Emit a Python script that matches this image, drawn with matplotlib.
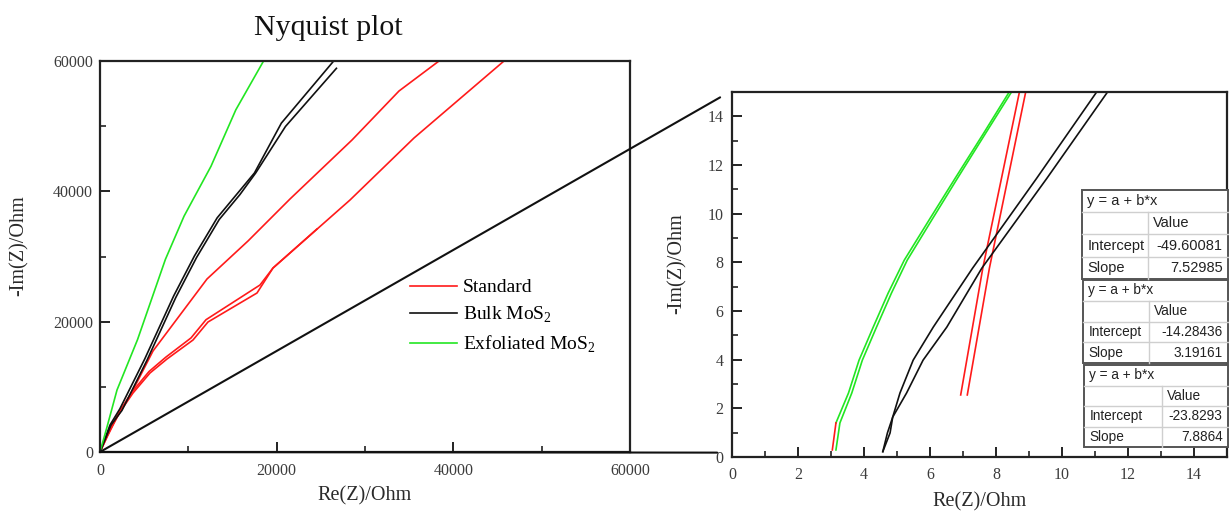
import matplotlib
matplotlib.use('Agg')
import matplotlib.pyplot as plt
from matplotlib.patches import ConnectionPatch, Rectangle
from matplotlib.lines import Line2D
from matplotlib.ticker import MultipleLocator

plt.rcParams['font.family'] = ['Liberation Serif', 'DejaVu Serif']
plt.rcParams['mathtext.fontset'] = 'custom'
plt.rcParams['mathtext.rm'] = 'Liberation Serif'

# ---------------- data: left (full Nyquist plot) ----------------
std_a_x = [0, 800, 1930, 3736, 6000, 12113, 16754, 21509, 28528, 33849, 38377]
std_a_y = [0, 2300, 5370, 9514, 15500, 26547, 32378, 38823, 47876, 55396, 60000]
std_b_x = [0, 1132, 2264, 3736, 5660, 7585, 10528, 12226, 17773, 19585, 28302, 35547, 45736]
std_b_y = [0, 3376, 6138, 9054, 12123, 14271, 17186, 19949, 24399, 28235, 38669, 48183, 60000]
std_c_x = [0, 1100, 2200, 3650, 5550, 7450, 10300, 12000, 18113, 19585, 24566]
std_c_y = [0, 3450, 6250, 9250, 12350, 14550, 17500, 20300, 25626, 28235, 34220]
bulk_a_x = [0, 1132, 2250, 5063, 8344, 10688, 13266, 15609, 17484, 20531, 26391]
bulk_a_y = [0, 4143, 6627, 14274, 23959, 30076, 35939, 39762, 42820, 50467, 59898]
bulk_b_x = [0, 1250, 2484, 5297, 8578, 10922, 13500, 15844, 17625, 21000, 26766]
bulk_b_y = [0, 4143, 6372, 14014, 23704, 29822, 35684, 39507, 42820, 49958, 58878]
exf_x = [0, 792, 1925, 4250, 7406, 9516, 12563, 15375, 18516]
exf_y = [0, 3836, 9514, 17250, 29567, 36194, 43840, 52506, 60000]

# ---------------- data: right (zoom on high-frequency region) ----------------
z_exf_a_x = [3.15, 3.53, 3.85, 4.28, 4.73, 5.22, 6.00, 6.76, 7.60, 8.40]
z_exf_a_y = [1.40, 2.63, 3.98, 5.34, 6.73, 8.09, 9.80, 11.45, 13.25, 15.0]
z_exf_b_x = [3.15, 3.27, 3.63, 3.95, 4.38, 4.83, 5.31, 6.08, 6.83, 7.66, 8.47]
z_exf_b_y = [0.29, 1.40, 2.63, 3.98, 5.34, 6.73, 8.09, 9.80, 11.45, 13.25, 15.0]
z_std_seg_x = [3.04, 3.15]
z_std_seg_y = [0.29, 1.40]
z_std_a_x = [6.93, 7.60, 8.71]
z_std_a_y = [2.55, 7.76, 15.0]
z_std_b_x = [7.13, 7.80, 8.90]
z_std_b_y = [2.55, 7.76, 15.0]
z_bulk_a_x = [4.57, 4.71, 4.87, 5.09, 5.49, 6.10, 7.29, 9.23, 11.05]
z_bulk_a_y = [0.22, 0.99, 1.64, 2.63, 3.98, 5.34, 7.76, 11.45, 15.0]
z_bulk_b_x = [4.57, 4.79, 4.87, 5.29, 5.79, 6.51, 7.57, 9.54, 11.38]
z_bulk_b_y = [0.22, 0.99, 1.64, 2.63, 3.98, 5.34, 7.76, 11.45, 15.0]

# linear-fit tables
fit_title = "y = a + b*x"
fit_intercepts = ["-49.60081", "-14.28436", "-23.8293"]
fit_slopes = ["7.52985", "3.19161", "7.8864"]

left_ticks = [0, 20000, 40000, 60000]
right_ticks = [0, 2, 4, 6, 8, 10, 12, 14]
legend_labels = ["Standard", "Bulk MoS$_\\mathregular{2}$", "Exfoliated MoS$_\\mathregular{2}$"]

RED = '#ff1a1a'
BLACK = '#111111'
GREEN = '#22e622'
LW = 1.2
TICKCOL = '#3c3c3c'
LABCOL = '#2a2a2a'

fig = plt.figure(figsize=(12.29, 5.11), dpi=100)
ax1 = fig.add_axes([100/1229, 59/511, 530/1229, 391/511])
ax2 = fig.add_axes([732/1229, 54/511, 495/1229, 365/511])

# ---- left axes ----
ax1.plot(std_a_x, std_a_y, color=RED, lw=LW)
ax1.plot(std_b_x, std_b_y, color=RED, lw=LW)
ax1.plot(std_c_x, std_c_y, color=RED, lw=LW)
ax1.plot(bulk_a_x, bulk_a_y, color=BLACK, lw=LW)
ax1.plot(bulk_b_x, bulk_b_y, color=BLACK, lw=LW)
ax1.plot(exf_x, exf_y, color=GREEN, lw=LW)
ax1.set_xlim(0, 60000)
ax1.set_ylim(0, 60000)

# ---- right axes ----
ax2.plot(z_exf_a_x, z_exf_a_y, color=GREEN, lw=LW)
ax2.plot(z_exf_b_x, z_exf_b_y, color=GREEN, lw=LW)
ax2.plot(z_std_seg_x, z_std_seg_y, color=RED, lw=LW)
ax2.plot(z_std_a_x, z_std_a_y, color=RED, lw=LW)
ax2.plot(z_std_b_x, z_std_b_y, color=RED, lw=LW)
ax2.plot(z_bulk_a_x, z_bulk_a_y, color=BLACK, lw=LW)
ax2.plot(z_bulk_b_x, z_bulk_b_y, color=BLACK, lw=LW)
ax2.set_xlim(0, 15)
ax2.set_ylim(0, 15)

for ax in (ax1, ax2):
    for s in ax.spines.values():
        s.set_linewidth(1.6)
        s.set_color('#222222')
    ax.tick_params(which='both', direction='in', top=False, right=False,
                   colors='#222222', labelcolor=TICKCOL, labelsize=11.5)
    ax.tick_params(which='major', length=7, width=1.4)
    ax.tick_params(which='minor', length=4, width=1.2)

ax1.set_xticks(left_ticks)
ax1.set_yticks(left_ticks)
ax1.xaxis.set_minor_locator(MultipleLocator(10000))
ax1.yaxis.set_minor_locator(MultipleLocator(10000))
ax1.set_xticklabels([str(t) for t in left_ticks])
ax1.set_yticklabels([str(t) for t in left_ticks])
ax1.tick_params(axis='x', pad=8)
ax1.tick_params(axis='y', pad=5)

ax2.set_xticks(right_ticks)
ax2.set_yticks(right_ticks)
ax2.xaxis.set_minor_locator(MultipleLocator(1))
ax2.yaxis.set_minor_locator(MultipleLocator(1))
ax2.tick_params(axis='x', pad=7)
ax2.tick_params(axis='y', pad=6)

ax1.set_xlabel("Re(Z)/Ohm", fontsize=14.5, color=LABCOL)
ax1.set_ylabel("-Im(Z)/Ohm", fontsize=14.5, color=LABCOL)
ax2.set_xlabel("Re(Z)/Ohm", fontsize=14.5, color=LABCOL)
ax2.set_ylabel("-Im(Z)/Ohm", fontsize=14.5, color=LABCOL)
ax1.xaxis.set_label_coords(0.5, -0.088)
ax1.yaxis.set_label_coords(-0.134, 0.527)
ax2.xaxis.set_label_coords(0.5, -0.097)
ax2.yaxis.set_label_coords(-0.091, 0.529)

fig.text(328/1229, 1 - 28/511, "Nyquist plot", fontsize=21.5, ha='center', va='center', color='#111111')

handles = [Line2D([], [], color=RED, lw=LW),
           Line2D([], [], color=BLACK, lw=LW),
           Line2D([], [], color=GREEN, lw=LW)]
ax1.legend(handles, legend_labels, loc='upper left', bbox_to_anchor=(0.585, 0.443),
           frameon=False, fontsize=14, handlelength=2.4, handletextpad=0.3,
           labelspacing=0.45, borderpad=0, borderaxespad=0)

# ---- zoom connector lines ----
for xyB in [(-0.36, 14.78), (-0.45, 0.18)]:
    con = ConnectionPatch(xyA=(0, 0), coordsA=ax1.transData, xyB=xyB, coordsB=ax2.transData,
                          color=BLACK, lw=1.5)
    fig.add_artist(con)


# ---- fit tables ----
def fit_table(ax, x0, y0, w, h, split, intercept, slope, fs):
    tr = ax.transAxes
    rh = h / 4.0
    ax.add_patch(Rectangle((x0, y0), w, h, transform=tr, facecolor='white',
                           edgecolor='#555555', lw=1.4, clip_on=False, zorder=6))
    for i in (1, 2, 3):
        yy = y0 + h - i * rh
        ax.add_line(Line2D([x0, x0 + w], [yy, yy], transform=tr, color='#cfcfcf',
                           lw=1.0, clip_on=False, zorder=7))
    xs = x0 + split * w
    ax.add_line(Line2D([xs, xs], [y0, y0 + 3 * rh], transform=tr, color='#cfcfcf',
                       lw=1.0, clip_on=False, zorder=7))
    kw = dict(transform=tr, fontsize=fs, family=['Liberation Sans', 'DejaVu Sans'],
              color='#222222', va='center', zorder=8, clip_on=False)
    px = 0.011
    ax.text(x0 + px, y0 + 3.5 * rh, fit_title, ha='left', **kw)
    ax.text(xs + px, y0 + 2.5 * rh, "Value", ha='left', **kw)
    ax.text(x0 + px, y0 + 1.5 * rh, "Intercept", ha='left', **kw)
    ax.text(x0 + w - px, y0 + 1.5 * rh, intercept, ha='right', **kw)
    ax.text(x0 + px, y0 + 0.5 * rh, "Slope", ha='left', **kw)
    ax.text(x0 + w - px, y0 + 0.5 * rh, slope, ha='right', **kw)


fit_table(ax2, (1082-732)/495, (457-279)/365, 146/495, 89/365, 0.452,
          fit_intercepts[0], fit_slopes[0], 10.5)
fit_table(ax2, (1083-732)/495, (457-363)/365, 145/495, 83/365, 0.455,
          fit_intercepts[1], fit_slopes[1], 9.8)
fit_table(ax2, (1084-732)/495, (457-447)/365, 144/495, 82/365, 0.54,
          fit_intercepts[2], fit_slopes[2], 9.8)

fig.savefig('out.png', dpi=100)
